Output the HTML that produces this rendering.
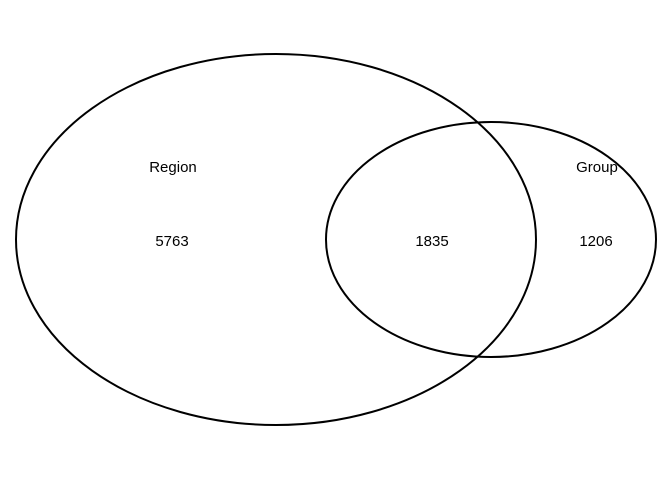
<!DOCTYPE html>
<html><head><style>html,body{margin:0;padding:0;background:#fff;}</style></head>
<body>
<svg width="672" height="480" xmlns="http://www.w3.org/2000/svg" style="display:block">
<rect width="672" height="480" fill="#fff"/>
<ellipse cx="276" cy="239.5" rx="260" ry="185.5" fill="none" stroke="#000" stroke-width="2"/>
<ellipse cx="491" cy="239.5" rx="165" ry="117.5" fill="none" stroke="#000" stroke-width="2"/>
<g font-family="Liberation Sans, sans-serif" font-size="15" text-anchor="middle" fill="#000">
<text x="173" y="172">Region</text>
<text x="597" y="172">Group</text>
<text x="172" y="246">5763</text>
<text x="432" y="246">1835</text>
<text x="596" y="246">1206</text>
</g>
</svg>
</body></html>
